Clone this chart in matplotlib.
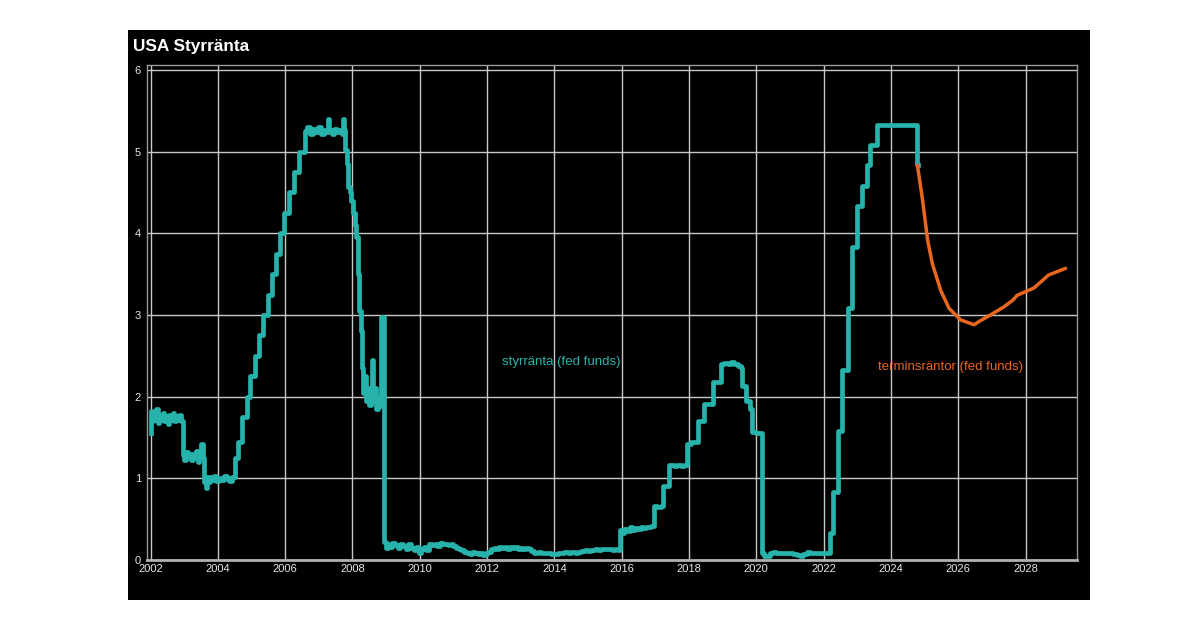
import matplotlib
matplotlib.use('Agg')
import matplotlib.pyplot as plt
from matplotlib.patches import Rectangle

plt.rcParams['font.family'] = ['Liberation Sans', 'DejaVu Sans']

# Effective fed funds rate (decimal year, percent)
fed_years = [
    2002.00, 2002.01, 2002.04, 2002.08, 2002.12, 2002.17, 2002.21, 2002.26, 2002.31, 2002.36,
    2002.41, 2002.46, 2002.51, 2002.56, 2002.61, 2002.66, 2002.71, 2002.76, 2002.81, 2002.86,
    2002.91, 2002.95, 2003.00, 2003.05, 2003.10, 2003.15, 2003.20, 2003.25, 2003.30, 2003.35,
    2003.40, 2003.45, 2003.50, 2003.55, 2003.60, 2003.64, 2003.68, 2003.72, 2003.78, 2003.84,
    2003.90, 2003.96, 2004.02, 2004.10, 2004.18, 2004.26, 2004.34, 2004.42, 2004.52, 2004.61,
    2004.72, 2004.86, 2004.95, 2005.09, 2005.22, 2005.34, 2005.49, 2005.61, 2005.72, 2005.86,
    2005.97, 2006.10, 2006.26, 2006.42, 2006.58, 2006.66, 2006.74, 2006.82, 2006.90, 2006.98,
    2007.06, 2007.14, 2007.22, 2007.27, 2007.30, 2007.38, 2007.46, 2007.54, 2007.62, 2007.70,
    2007.73, 2007.76, 2007.79, 2007.83, 2007.87, 2007.92, 2007.97, 2008.02, 2008.07, 2008.12,
    2008.16, 2008.20, 2008.24, 2008.28, 2008.32, 2008.36, 2008.40, 2008.45, 2008.50, 2008.55,
    2008.58, 2008.61, 2008.66, 2008.70, 2008.75, 2008.80, 2008.86, 2008.94, 2009.00, 2009.06,
    2009.12, 2009.18, 2009.26, 2009.34, 2009.42, 2009.50, 2009.58, 2009.66, 2009.74, 2009.82,
    2009.90, 2009.98, 2010.04, 2010.12, 2010.20, 2010.28, 2010.36, 2010.44, 2010.52, 2010.60,
    2010.68, 2010.76, 2010.84, 2010.92, 2011.00, 2011.08, 2011.16, 2011.24, 2011.32, 2011.40,
    2011.48, 2011.56, 2011.64, 2011.72, 2011.80, 2011.88, 2011.96, 2012.04, 2012.12, 2012.20,
    2012.28, 2012.36, 2012.44, 2012.52, 2012.60, 2012.68, 2012.76, 2012.84, 2012.92, 2013.00,
    2013.08, 2013.16, 2013.24, 2013.32, 2013.40, 2013.50, 2013.60, 2013.70, 2013.80, 2013.90,
    2014.00, 2014.10, 2014.20, 2014.30, 2014.40, 2014.50, 2014.60, 2014.70, 2014.80, 2014.90,
    2015.00, 2015.10, 2015.20, 2015.30, 2015.40, 2015.50, 2015.60, 2015.70, 2015.80, 2015.88,
    2015.94, 2016.00, 2016.08, 2016.16, 2016.24, 2016.32, 2016.40, 2016.48, 2016.56, 2016.64,
    2016.72, 2016.80, 2016.88, 2016.95, 2017.05, 2017.16, 2017.22, 2017.30, 2017.42, 2017.55,
    2017.65, 2017.75, 2017.85, 2017.93, 2018.05, 2018.27, 2018.45, 2018.72, 2018.96, 2019.05,
    2019.15, 2019.25, 2019.35, 2019.45, 2019.55, 2019.58, 2019.70, 2019.80, 2019.88, 2020.00,
    2020.16, 2020.22, 2020.30, 2020.40, 2020.50, 2020.60, 2020.70, 2020.80, 2020.90, 2021.00,
    2021.10, 2021.20, 2021.30, 2021.40, 2021.50, 2021.60, 2021.70, 2021.80, 2021.90, 2022.00,
    2022.10, 2022.20, 2022.29, 2022.44, 2022.54, 2022.72, 2022.84, 2022.99, 2023.14, 2023.28,
    2023.38, 2023.58, 2024.77, 2024.80,
]
fed_rate = [
    1.55, 1.82, 1.70, 1.80, 1.72, 1.85, 1.68, 1.78, 1.72, 1.80,
    1.70, 1.76, 1.66, 1.78, 1.72, 1.80, 1.70, 1.76, 1.72, 1.78,
    1.70, 1.28, 1.22, 1.32, 1.26, 1.30, 1.22, 1.30, 1.26, 1.33,
    1.20, 1.28, 1.42, 1.25, 0.95, 0.88, 1.02, 0.95, 1.02, 0.98,
    1.03, 0.97, 1.00, 0.98, 1.03, 1.00, 0.97, 1.02, 1.25, 1.45,
    1.75, 2.00, 2.25, 2.50, 2.75, 3.00, 3.25, 3.50, 3.75, 4.00,
    4.25, 4.50, 4.75, 5.00, 5.25, 5.30, 5.22, 5.28, 5.24, 5.30,
    5.22, 5.27, 5.24, 5.40, 5.26, 5.22, 5.28, 5.24, 5.27, 5.22,
    5.40, 5.26, 5.02, 4.85, 4.57, 4.50, 4.40, 4.25, 4.10, 3.95,
    3.50, 3.05, 2.80, 2.35, 2.05, 2.25, 1.95, 2.10, 1.90, 2.05,
    2.45, 1.95, 2.10, 1.85, 2.00, 1.88, 2.97, 0.22, 0.15, 0.20,
    0.16, 0.21, 0.18, 0.15, 0.20, 0.17, 0.14, 0.19, 0.15, 0.12,
    0.16, 0.08, 0.13, 0.16, 0.12, 0.20, 0.18, 0.20, 0.17, 0.21,
    0.19, 0.20, 0.18, 0.20, 0.17, 0.15, 0.14, 0.12, 0.10, 0.09,
    0.07, 0.10, 0.08, 0.07, 0.09, 0.06, 0.09, 0.10, 0.13, 0.15,
    0.14, 0.16, 0.15, 0.16, 0.14, 0.16, 0.15, 0.16, 0.14, 0.15,
    0.14, 0.15, 0.13, 0.11, 0.09, 0.10, 0.08, 0.09, 0.08, 0.07,
    0.07, 0.08, 0.09, 0.10, 0.09, 0.10, 0.09, 0.10, 0.11, 0.12,
    0.11, 0.12, 0.13, 0.12, 0.14, 0.13, 0.14, 0.12, 0.14, 0.12,
    0.37, 0.33, 0.38, 0.36, 0.40, 0.37, 0.39, 0.38, 0.40, 0.39,
    0.41, 0.40, 0.42, 0.66, 0.65, 0.66, 0.91, 0.90, 1.16, 1.15,
    1.16, 1.15, 1.16, 1.42, 1.44, 1.70, 1.91, 2.18, 2.40, 2.41,
    2.40, 2.43, 2.40, 2.38, 2.35, 2.13, 1.95, 1.85, 1.57, 1.55,
    0.08, 0.05, 0.05, 0.08, 0.10, 0.09, 0.09, 0.08, 0.09, 0.08,
    0.07, 0.06, 0.05, 0.07, 0.10, 0.08, 0.08, 0.08, 0.08, 0.08,
    0.08, 0.33, 0.83, 1.58, 2.33, 3.08, 3.83, 4.33, 4.58, 4.83,
    5.08, 5.33, 4.83, 4.83,
]

# Futures-implied path (terminsräntor)
fwd_years = [2024.79, 2024.94, 2025.09, 2025.23, 2025.48, 2025.73, 2026.07, 2026.47,
             2026.62, 2026.96, 2027.36, 2027.62, 2027.75, 2028.25, 2028.55, 2028.69, 2029.19]
fwd_rate = [4.83, 4.41, 3.92, 3.63, 3.30, 3.08, 2.94, 2.88,
            2.92, 3.00, 3.10, 3.18, 3.24, 3.33, 3.44, 3.49, 3.57]

year_ticks = [2002, 2004, 2006, 2008, 2010, 2012, 2014, 2016, 2018, 2020, 2022, 2024, 2026, 2028]
rate_ticks = [0, 1, 2, 3, 4, 5, 6]

teal = '#27b3ab'
orange = '#e8661e'

fig = plt.figure(figsize=(12, 6.3), dpi=100, facecolor='white')
panel = Rectangle((128 / 1200, 30 / 630), 962 / 1200, 570 / 630,
                  transform=fig.transFigure, facecolor='black',
                  edgecolor='none', zorder=-10)
fig.patches.append(panel)

ax = fig.add_axes([146.5 / 1200, 70 / 630, 930.5 / 1200, 495 / 630])
ax.set_zorder(5)
ax.set_facecolor('black')

ax.step(fed_years, fed_rate, where='post', color=teal, lw=3.4, zorder=3)
ax.plot(fwd_years, fwd_rate, color=orange, lw=2.5, zorder=3,
        solid_capstyle='round')

ax.set_xlim(2001.88, 2029.53)
ax.set_ylim(0, 6.06)
ax.set_xticks(year_ticks)
ax.set_xticklabels([str(y) for y in year_ticks])
ax.set_yticks(rate_ticks)
ax.tick_params(axis='both', length=0, labelsize=8, labelcolor='#e6e6e6')
ax.tick_params(axis='x', pad=3)
ax.tick_params(axis='y', pad=4)
ax.grid(True, color='#c8c8c8', lw=1.0, zorder=1)
ax.set_axisbelow(True)
for side in ['left', 'right', 'top']:
    ax.spines[side].set_color('#9a9a9a')
    ax.spines[side].set_linewidth(1.0)
ax.spines['bottom'].set_color('#b0b0b0')
ax.spines['bottom'].set_linewidth(2.0)

ax.text(2014.21, 2.42, 'styrränta (fed funds)', color=teal, fontsize=9.5,
        ha='center', va='center', zorder=4)
ax.text(2025.76, 2.36, 'terminsräntor (fed funds)', color=orange, fontsize=9.5,
        ha='center', va='center', zorder=4)

fig.text(133 / 1200, (630 - 46) / 630, 'USA Styrränta', color='white',
         fontsize=12.4, fontweight='bold', ha='left', va='center')

fig.savefig('out.png', dpi=100, facecolor='white')
